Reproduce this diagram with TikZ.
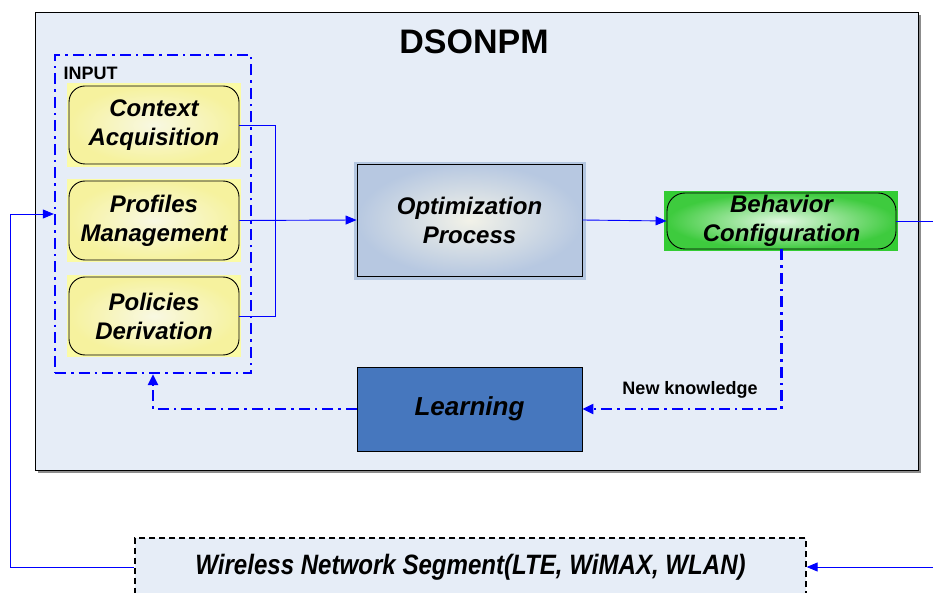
\documentclass[tikz,border=0pt]{standalone}
\usepackage{fontspec}
\setmainfont{Liberation Sans}
\usetikzlibrary{arrows.meta,calc}
\definecolor{panel}{HTML}{E6EDF7}
\definecolor{panelshade}{HTML}{8C8C8C}
\definecolor{ybg}{HTML}{FBFBA6}
\definecolor{yin}{HTML}{F8F8E2}
\definecolor{yout}{HTML}{F6F29E}
\definecolor{gbg}{HTML}{33CC33}
\definecolor{gin}{HTML}{E2F8E2}
\definecolor{gout}{HTML}{3ECB3E}
\definecolor{optin}{HTML}{F2F2E8}
\definecolor{optout}{HTML}{B7C8E1}
\definecolor{optrim}{HTML}{B3C6E0}
\definecolor{learnfill}{HTML}{4677BE}
\definecolor{wire}{HTML}{0000FF}
\tikzset{
  boxtext/.style={font=\fontsize{24}{29}\selectfont\bfseries\itshape, align=center, text=black},
  yellowbg/.style={fill=ybg, draw=none, inner sep=0pt},
  yellowbox/.style={boxtext, draw=black, line width=0.9pt, rounded corners=16pt,
    shading=radial, inner color=yin, outer color=yout, inner sep=0pt,
    minimum width=170pt},
  greenbg/.style={fill=gbg, draw=none, inner sep=0pt},
  greenbox/.style={boxtext, draw=black, line width=0.9pt, rounded corners=18pt,
    shading=radial, inner color=gin, outer color=gout, inner sep=0pt},
  squarebox/.style={boxtext, draw=black, line width=0.9pt, inner sep=0pt},
  link/.style={draw=wire, line width=0.9pt},
  linkarrow/.style={link, -{Triangle[length=11pt,width=9pt]}},
  dashdot/.style={draw=wire, line width=2.3pt,
    dash pattern=on 11pt off 5pt on 2.5pt off 5pt},
  feedback/.style={dashdot, -{Triangle[length=11pt,width=10pt]}},
}
\begin{document}
\begin{tikzpicture}[x=1pt,y=-1pt]
\useasboundingbox (0,0) rectangle (933,593);

% outer DSONPM panel with its shadow
\fill[panelshade] (37.5,15.5) rectangle (920.5,472.5);
\node[draw=black, line width=1pt, fill=panel, inner sep=0pt,
      minimum width=883pt, minimum height=457pt] (frame) at (476.5,241.5) {};
\node[font=\fontsize{34}{37}\selectfont\bfseries] (title) at (474,42) {DSONPM};

% input group
\node[draw=wire, line width=2.3pt, dash pattern=on 11pt off 5pt on 2.5pt off 5pt,
      inner sep=0pt, minimum width=196pt, minimum height=318pt] (inputbox) at (153,214) {};
\node[font=\fontsize{18}{21}\selectfont\bfseries, anchor=west, inner sep=0pt] (inputlbl) at (63.5,73.5) {INPUT};

\node[yellowbg, minimum width=174pt, minimum height=84pt] (ctxbg) at (154,125) {};
\node[yellowbox, minimum height=78pt] (ctx) at (154,125) {Context\\Acquisition};
\node[yellowbg, minimum width=174pt, minimum height=83pt] (profbg) at (154,220.5) {};
\node[yellowbox, minimum height=79pt] (prof) at (154,220.5) {Profiles\\Management};
\node[yellowbg, minimum width=174pt, minimum height=81pt] (polbg) at (154,316) {};
\node[yellowbox, minimum height=78pt] (pol) at (154,316) {Policies\\Derivation};

% optimization process with its light rim
\node[fill=optrim, inner sep=0pt, minimum width=232pt, minimum height=118pt] (optrim) at (470,221.5) {};
\node[squarebox, shading=radial, inner color=optin, outer color=optout,
      minimum width=225pt, minimum height=112pt] (opt) at (469.5,220) {Optimization\\Process};

% behavior configuration
\node[greenbg, minimum width=234pt, minimum height=60pt] (behavbg) at (781,221) {};
\node[greenbox, minimum width=229pt, minimum height=56pt] (behav) at (781.5,221) {Behavior\\Configuration};

% learning
\node[squarebox, fill=learnfill, font=\fontsize{26}{30}\selectfont\bfseries\itshape,
      minimum width=225pt, minimum height=84pt] (learn) at (469.5,409) {Learning};

% wireless network segment
\node[draw=black, line width=1.3pt, dash pattern=on 6pt off 4pt, fill=panel,
      inner sep=0pt, minimum width=671pt, minimum height=58pt,
      font=\fontsize{28}{32}\selectfont\bfseries\itshape] (wns) at (470.5,567)
      {\scalebox{0.86}[1]{Wireless Network Segment(LTE, WiMAX, WLAN)}};

\node[font=\fontsize{18}{21}\selectfont\bfseries] (newk) at (690,390) {New knowledge};

% solid connectors
\draw[link] (ctx.east) -- ++(36,0) |- (pol.east);
\draw[linkarrow] (prof.east) -- (opt.west);
\draw[linkarrow] (opt.east) -- (behav.west);
\coordinate (rightturn) at (934,221);
\coordinate (leftturn) at (10,567);
\draw[linkarrow] (behav.east) -- (rightturn) |- (wns.east);
\draw[linkarrow] (wns.west) -- (leftturn) |- (inputbox.west);

% feedback loop
\draw[feedback] (behav.south) |- (learn.east);
\draw[feedback] (learn.west) -| (inputbox.south);
\end{tikzpicture}
\end{document}
